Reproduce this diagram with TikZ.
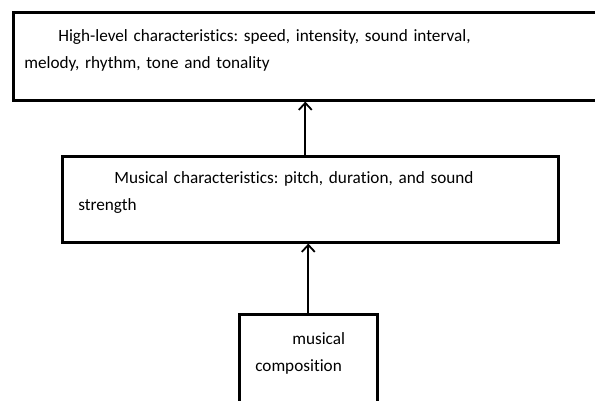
\documentclass[tikz,border=0pt]{standalone}
\usepackage{fontspec}
\setmainfont{Carlito}[Ligatures=NoCommon, WordSpace=0.8]
\frenchspacing
\usetikzlibrary{arrows.meta}
\begin{document}
\begin{tikzpicture}[x=1pt, y=-1pt,
        box/.style={draw, line width=2.6pt, rectangle, anchor=north west, align=left,
            text height=14pt, font=\fontsize{17.2}{27}\selectfont},
        up/.style={-{Straight Barb[length=7pt,width=13pt]}, line width=1.8pt}]
        \useasboundingbox (0,0) rectangle (595,401);
        \node[box, inner xsep=11pt, inner ysep=15pt, text width=572pt, text depth=44pt]
            (high) at (12,11) {\hspace*{34pt}High-level characteristics: speed, intensity, sound interval,\\
            melody, rhythm, tone and tonality};
        \node[box, inner xsep=16pt, inner ysep=13pt, text width=464pt, text depth=46pt]
            (mus) at (61,155) {\hspace*{36pt}Musical characteristics: pitch, duration, and sound\\
            strength};
        \node[box, inner xsep=16pt, inner ysep=16pt, text width=106pt, text depth=61pt]
            (comp) at (238,313) {\hspace*{37pt}musical\\ composition};
        \draw[up] ([xshift=-5pt]mus.north) -- ([xshift=-5pt]mus.north |- high.south);
        \draw[up] (comp.north) -- (comp.north |- mus.south);
    \end{tikzpicture}
\end{document}
